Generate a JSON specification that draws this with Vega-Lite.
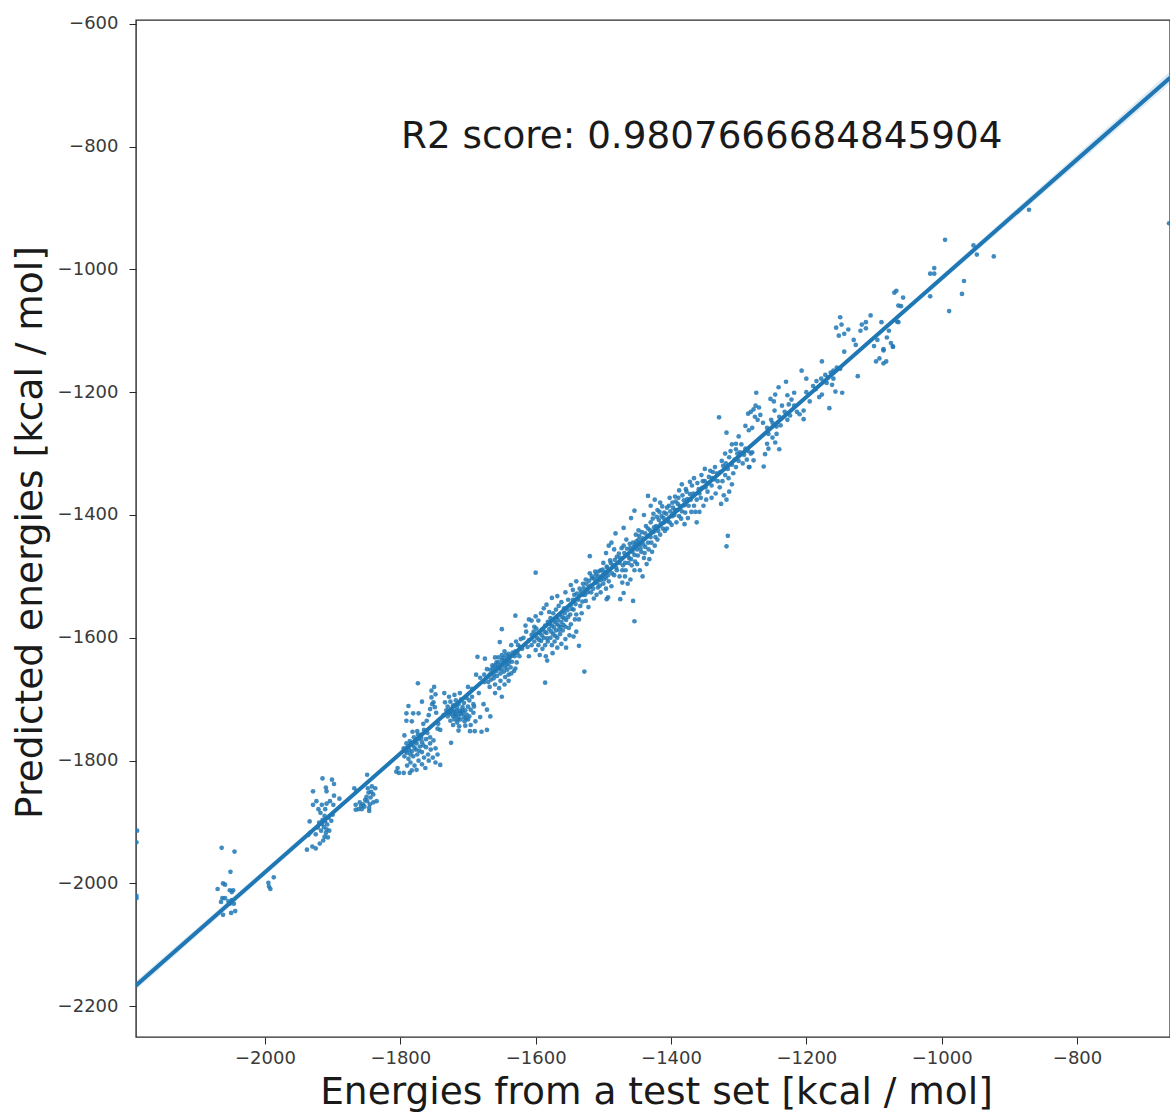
{
"$schema":"https://vega.github.io/schema/vega-lite/v6.json",
"width":1034,"height":1017,
"autosize":"none",
"padding":{"left":136,"top":20,"right":0,"bottom":76},
"background":"white",
"config":{"view":{"stroke":"#2a2a2a","strokeWidth":1.4},"font":"DejaVu Sans"},
"datasets":{
"pts":[
{"x":-2189,"y":-1914},{"x":-2190,"y":-1933},{"x":-2190,"y":-2020},{"x":-2190,"y":-2024},
{"x":-2064,"y":-1942},{"x":-2045,"y":-1948},{"x":-2051,"y":-1981},{"x":-2070,"y":-2009},{"x":-2062,"y":-2000},{"x":-2059,"y":-2002},{"x":-2052,"y":-2011},{"x":-2047,"y":-2011},{"x":-2049,"y":-2014},{"x":-2063,"y":-2024},{"x":-2059,"y":-2024},{"x":-2065,"y":-2030},{"x":-2054,"y":-2029},{"x":-2049,"y":-2027},{"x":-2052,"y":-2033},{"x":-2046,"y":-2033},{"x":-2062,"y":-2051},{"x":-2050,"y":-2048},{"x":-2044,"y":-2045},
{"x":-1995,"y":-1999},{"x":-1987,"y":-1990},{"x":-1994,"y":-2005},{"x":-1992,"y":-2009},
{"x":-1915,"y":-1829},{"x":-1901,"y":-1831},{"x":-1898,"y":-1838},{"x":-1910,"y":-1844},{"x":-1909,"y":-1850},{"x":-1929,"y":-1850},{"x":-1924,"y":-1866},{"x":-1929,"y":-1872},{"x":-1898,"y":-1857},{"x":-1890,"y":-1862},{"x":-1904,"y":-1866},{"x":-1909,"y":-1870},{"x":-1916,"y":-1872},{"x":-1921,"y":-1879},{"x":-1911,"y":-1879},{"x":-1899,"y":-1872},{"x":-1918,"y":-1885},{"x":-1912,"y":-1890},{"x":-1906,"y":-1893},{"x":-1900,"y":-1888},{"x":-1902,"y":-1898},{"x":-1934,"y":-1899},{"x":-1915,"y":-1897},{"x":-1920,"y":-1901},{"x":-1908,"y":-1904},{"x":-1913,"y":-1908},{"x":-1933,"y":-1917},{"x":-1936,"y":-1921},{"x":-1925,"y":-1920},{"x":-1917,"y":-1914},{"x":-1910,"y":-1918},{"x":-1905,"y":-1914},{"x":-1912,"y":-1924},{"x":-1919,"y":-1935},{"x":-1907,"y":-1925},{"x":-1930,"y":-1940},{"x":-1925,"y":-1943},{"x":-1938,"y":-1945},{"x":-1914,"y":-1930},{"x":-1916,"y":-1903},{"x":-1911,"y":-1899},{"x":-1922,"y":-1909},{"x":-1909,"y":-1912},
{"x":-1849,"y":-1823},{"x":-1868,"y":-1845},{"x":-1865,"y":-1850},{"x":-1842,"y":-1842},{"x":-1837,"y":-1845},{"x":-1847,"y":-1852},{"x":-1850,"y":-1859},{"x":-1844,"y":-1860},{"x":-1835,"y":-1866},{"x":-1860,"y":-1868},{"x":-1866,"y":-1872},{"x":-1855,"y":-1871},{"x":-1845,"y":-1871},{"x":-1866,"y":-1880},{"x":-1857,"y":-1879},{"x":-1846,"y":-1882},{"x":-1840,"y":-1868},{"x":-1852,"y":-1864},{"x":-1862,"y":-1879},{"x":-1840,"y":-1855},{"x":-1848,"y":-1845},{"x":-1853,"y":-1875},{"x":-1849,"y":-1866},{"x":-1843,"y":-1851},{"x":-1858,"y":-1874},{"x":-1846,"y":-1877},
{"x":-1774,"y":-1674},{"x":-1754,"y":-1686},{"x":-1750,"y":-1680},{"x":-1768,"y":-1704},{"x":-1788,"y":-1711},{"x":-1791,"y":-1723},{"x":-1781,"y":-1723},{"x":-1773,"y":-1723},{"x":-1791,"y":-1735},{"x":-1783,"y":-1736},{"x":-1766,"y":-1740},{"x":-1761,"y":-1735},{"x":-1794,"y":-1759},{"x":-1782,"y":-1753},{"x":-1754,"y":-1697},{"x":-1751,"y":-1705},{"x":-1749,"y":-1713},{"x":-1756,"y":-1716},{"x":-1747,"y":-1722},{"x":-1753,"y":-1708},{"x":-1748,"y":-1692},{"x":-1758,"y":-1726},{"x":-1745,"y":-1748},{"x":-1741,"y":-1750},{"x":-1744,"y":-1740},
{"x":-1775,"y":-1752},{"x":-1770,"y":-1758},{"x":-1765,"y":-1750},{"x":-1760,"y":-1755},{"x":-1756,"y":-1762},{"x":-1762,"y":-1765},{"x":-1768,"y":-1770},{"x":-1773,"y":-1765},{"x":-1780,"y":-1762},{"x":-1786,"y":-1768},{"x":-1791,"y":-1772},{"x":-1795,"y":-1780},{"x":-1788,"y":-1778},{"x":-1782,"y":-1775},{"x":-1776,"y":-1772},{"x":-1771,"y":-1777},{"x":-1777,"y":-1782},{"x":-1783,"y":-1785},{"x":-1790,"y":-1787},{"x":-1794,"y":-1793},{"x":-1788,"y":-1797},{"x":-1781,"y":-1793},{"x":-1775,"y":-1790},{"x":-1768,"y":-1786},{"x":-1762,"y":-1778},{"x":-1756,"y":-1772},{"x":-1751,"y":-1767},{"x":-1759,"y":-1790},{"x":-1765,"y":-1795},{"x":-1755,"y":-1782},{"x":-1748,"y":-1780},{"x":-1745,"y":-1790},{"x":-1752,"y":-1795},{"x":-1748,"y":-1803},{"x":-1741,"y":-1807},{"x":-1768,"y":-1806},{"x":-1773,"y":-1800},{"x":-1779,"y":-1808},{"x":-1785,"y":-1803},{"x":-1790,"y":-1808},{"x":-1804,"y":-1812},{"x":-1806,"y":-1818},{"x":-1802,"y":-1820},{"x":-1795,"y":-1820},{"x":-1783,"y":-1816},{"x":-1786,"y":-1820},{"x":-1776,"y":-1815},{"x":-1763,"y":-1812},{"x":-1758,"y":-1800},{"x":-1779,"y":-1779},{"x":-1785,"y":-1790},{"x":-1772,"y":-1784},{"x":-1778,"y":-1769},{"x":-1784,"y":-1772},{"x":-1769,"y":-1763},{"x":-1774,"y":-1758},{"x":-1766,"y":-1775},{"x":-1787,"y":-1783},{"x":-1793,"y":-1785},
{"x":-1735,"y":-1690},{"x":-1728,"y":-1696},{"x":-1720,"y":-1693},{"x":-1712,"y":-1690},{"x":-1700,"y":-1680},{"x":-1694,"y":-1683},{"x":-1688,"y":-1660},{"x":-1682,"y":-1665},{"x":-1676,"y":-1672},
{"x":-1734,"y":-1705},{"x":-1730,"y":-1712},{"x":-1726,"y":-1704},{"x":-1722,"y":-1710},{"x":-1718,"y":-1702},{"x":-1714,"y":-1708},{"x":-1710,"y":-1700},{"x":-1706,"y":-1706},{"x":-1702,"y":-1698},{"x":-1698,"y":-1702},{"x":-1694,"y":-1696},{"x":-1692,"y":-1708},{"x":-1732,"y":-1718},{"x":-1728,"y":-1722},{"x":-1724,"y":-1716},{"x":-1720,"y":-1720},{"x":-1716,"y":-1714},{"x":-1712,"y":-1719},{"x":-1708,"y":-1713},{"x":-1704,"y":-1718},{"x":-1700,"y":-1712},{"x":-1696,"y":-1717},{"x":-1736,"y":-1726},{"x":-1730,"y":-1728},{"x":-1726,"y":-1724},{"x":-1722,"y":-1728},{"x":-1718,"y":-1725},{"x":-1714,"y":-1729},{"x":-1710,"y":-1724},{"x":-1706,"y":-1729},{"x":-1702,"y":-1725},{"x":-1698,"y":-1728},{"x":-1692,"y":-1722},{"x":-1726,"y":-1735},{"x":-1720,"y":-1733},{"x":-1716,"y":-1738},{"x":-1711,"y":-1733},{"x":-1705,"y":-1736},{"x":-1700,"y":-1733},{"x":-1722,"y":-1742},{"x":-1713,"y":-1744},{"x":-1704,"y":-1743},{"x":-1696,"y":-1742},{"x":-1689,"y":-1736},{"x":-1677,"y":-1708},{"x":-1672,"y":-1717},{"x":-1667,"y":-1728},{"x":-1682,"y":-1729},{"x":-1691,"y":-1712},{"x":-1684,"y":-1690},{"x":-1714,"y":-1751},{"x":-1697,"y":-1752},{"x":-1725,"y":-1771},{"x":-1690,"y":-1752},{"x":-1680,"y":-1753},{"x":-1672,"y":-1750},{"x":-1717,"y":-1719},{"x":-1713,"y":-1723},{"x":-1709,"y":-1718},{"x":-1719,"y":-1727},{"x":-1707,"y":-1722},{"x":-1723,"y":-1721},{"x":-1715,"y":-1733},{"x":-1703,"y":-1731},
{"x":-1686,"y":-1631},{"x":-1675,"y":-1634},{"x":-1672,"y":-1651},{"x":-1668,"y":-1660},{"x":-1664,"y":-1645},{"x":-1660,"y":-1632},{"x":-1655,"y":-1640},{"x":-1650,"y":-1628},{"x":-1646,"y":-1622},{"x":-1640,"y":-1626},{"x":-1636,"y":-1612},{"x":-1670,"y":-1672},{"x":-1666,"y":-1668},{"x":-1662,"y":-1660},{"x":-1658,"y":-1654},{"x":-1654,"y":-1650},{"x":-1650,"y":-1644},{"x":-1646,"y":-1640},{"x":-1642,"y":-1634},{"x":-1638,"y":-1630},{"x":-1634,"y":-1624},{"x":-1676,"y":-1660},{"x":-1660,"y":-1645},{"x":-1655,"y":-1632},{"x":-1650,"y":-1636},{"x":-1645,"y":-1648},{"x":-1640,"y":-1642},{"x":-1662,"y":-1666},{"x":-1657,"y":-1662},{"x":-1652,"y":-1658},{"x":-1647,"y":-1655},{"x":-1642,"y":-1652},{"x":-1637,"y":-1648},{"x":-1668,"y":-1680},{"x":-1660,"y":-1676},{"x":-1652,"y":-1670},{"x":-1645,"y":-1664},{"x":-1640,"y":-1660},{"x":-1632,"y":-1654},{"x":-1654,"y":-1682},{"x":-1646,"y":-1676},{"x":-1650,"y":-1696},{"x":-1660,"y":-1690},{"x":-1640,"y":-1670},{"x":-1630,"y":-1650},{"x":-1628,"y":-1640},{"x":-1624,"y":-1630},{"x":-1630,"y":-1622},{"x":-1626,"y":-1612},{"x":-1622,"y":-1602},{"x":-1620,"y":-1618},
{"x":-1667,"y":-1652},{"x":-1663,"y":-1649},{"x":-1656,"y":-1647},{"x":-1651,"y":-1651},{"x":-1648,"y":-1633},{"x":-1643,"y":-1644},{"x":-1639,"y":-1637},{"x":-1635,"y":-1639},{"x":-1631,"y":-1630},{"x":-1627,"y":-1625},{"x":-1623,"y":-1615},{"x":-1658,"y":-1640},{"x":-1644,"y":-1628},{"x":-1636,"y":-1658},{"x":-1629,"y":-1606},
{"x":-1630,"y":-1564},{"x":-1650,"y":-1586},{"x":-1653,"y":-1607},{"x":-1600,"y":-1494},{"x":-1528,"y":-1655},{"x":-1586,"y":-1673},{"x":-1583,"y":-1637},{"x":-1536,"y":-1613},
{"x":-1615,"y":-1580},{"x":-1610,"y":-1570},{"x":-1606,"y":-1572},{"x":-1618,"y":-1600},{"x":-1614,"y":-1590},{"x":-1610,"y":-1604},{"x":-1606,"y":-1595},{"x":-1602,"y":-1582},{"x":-1600,"y":-1565},{"x":-1596,"y":-1572},{"x":-1592,"y":-1560},{"x":-1588,"y":-1552},{"x":-1584,"y":-1546},{"x":-1580,"y":-1558},{"x":-1576,"y":-1535},{"x":-1612,"y":-1615},{"x":-1606,"y":-1612},{"x":-1602,"y":-1606},{"x":-1598,"y":-1600},{"x":-1594,"y":-1592},{"x":-1590,"y":-1586},{"x":-1586,"y":-1580},{"x":-1582,"y":-1574},{"x":-1578,"y":-1568},{"x":-1574,"y":-1560},{"x":-1570,"y":-1554},{"x":-1566,"y":-1548},{"x":-1600,"y":-1620},{"x":-1596,"y":-1612},{"x":-1592,"y":-1605},{"x":-1588,"y":-1600},{"x":-1584,"y":-1592},{"x":-1580,"y":-1586},{"x":-1576,"y":-1580},{"x":-1572,"y":-1574},{"x":-1568,"y":-1566},{"x":-1564,"y":-1562},{"x":-1590,"y":-1618},{"x":-1586,"y":-1612},{"x":-1582,"y":-1606},{"x":-1578,"y":-1600},{"x":-1574,"y":-1594},{"x":-1570,"y":-1588},{"x":-1566,"y":-1580},{"x":-1562,"y":-1574},{"x":-1558,"y":-1568},{"x":-1576,"y":-1612},{"x":-1572,"y":-1606},{"x":-1568,"y":-1600},{"x":-1564,"y":-1594},{"x":-1560,"y":-1588},{"x":-1556,"y":-1582},{"x":-1568,"y":-1616},{"x":-1562,"y":-1610},{"x":-1556,"y":-1602},{"x":-1550,"y":-1596},{"x":-1575,"y":-1625},{"x":-1555,"y":-1616},{"x":-1594,"y":-1628},{"x":-1610,"y":-1630},{"x":-1585,"y":-1630},{"x":-1540,"y":-1590},{"x":-1544,"y":-1598},{"x":-1548,"y":-1578},{"x":-1542,"y":-1570},{"x":-1552,"y":-1566},{"x":-1558,"y":-1552},{"x":-1562,"y":-1542},{"x":-1568,"y":-1532},{"x":-1556,"y":-1526},{"x":-1552,"y":-1538},{"x":-1548,"y":-1546},{"x":-1544,"y":-1554},{"x":-1540,"y":-1562},{"x":-1536,"y":-1570},{"x":-1532,"y":-1560},{"x":-1545,"y":-1522},{"x":-1548,"y":-1514},{"x":-1540,"y":-1508},{"x":-1535,"y":-1520},{"x":-1530,"y":-1530},{"x":-1526,"y":-1540},{"x":-1522,"y":-1550},{"x":-1534,"y":-1548},{"x":-1530,"y":-1512},{"x":-1526,"y":-1505},{"x":-1522,"y":-1518},{"x":-1518,"y":-1526},{"x":-1514,"y":-1536},{"x":-1510,"y":-1530},{"x":-1520,"y":-1495},{"x":-1516,"y":-1503},{"x":-1512,"y":-1510},{"x":-1508,"y":-1518},{"x":-1504,"y":-1526},{"x":-1512,"y":-1492},{"x":-1508,"y":-1500},{"x":-1504,"y":-1506},{"x":-1500,"y":-1512},{"x":-1496,"y":-1520},{"x":-1504,"y":-1490},{"x":-1500,"y":-1496},{"x":-1496,"y":-1502},{"x":-1492,"y":-1508},{"x":-1488,"y":-1516},{"x":-1520,"y":-1467},{"x":-1493,"y":-1534},{"x":-1495,"y":-1537},{"x":-1475,"y":-1537},{"x":-1470,"y":-1527},{"x":-1456,"y":-1540},{"x":-1454,"y":-1573},{"x":-1454,"y":-1393},{"x":-1459,"y":-1405},{"x":-1470,"y":-1421},{"x":-1482,"y":-1430},{"x":-1434,"y":-1369},{"x":-1318,"y":-1451},{"x":-1316,"y":-1434},
{"x":-1603,"y":-1590},{"x":-1599,"y":-1585},{"x":-1595,"y":-1603},{"x":-1591,"y":-1596},{"x":-1587,"y":-1590},{"x":-1583,"y":-1601},{"x":-1579,"y":-1578},{"x":-1577,"y":-1590},{"x":-1573,"y":-1583},{"x":-1571,"y":-1597},{"x":-1569,"y":-1577},{"x":-1567,"y":-1571},{"x":-1565,"y":-1587},{"x":-1563,"y":-1582},{"x":-1561,"y":-1566},{"x":-1559,"y":-1579},{"x":-1557,"y":-1560},{"x":-1555,"y":-1571},{"x":-1553,"y":-1555},{"x":-1551,"y":-1584},{"x":-1549,"y":-1562},{"x":-1547,"y":-1553},{"x":-1545,"y":-1538},{"x":-1543,"y":-1530},{"x":-1541,"y":-1545},{"x":-1539,"y":-1528},{"x":-1537,"y":-1538},{"x":-1533,"y":-1525},{"x":-1531,"y":-1541},{"x":-1529,"y":-1519},{"x":-1527,"y":-1530},{"x":-1525,"y":-1512},{"x":-1523,"y":-1526},{"x":-1521,"y":-1507},{"x":-1519,"y":-1515},{"x":-1517,"y":-1500},{"x":-1515,"y":-1520},{"x":-1513,"y":-1504},{"x":-1511,"y":-1497},{"x":-1509,"y":-1510},{"x":-1507,"y":-1492},{"x":-1505,"y":-1515},{"x":-1503,"y":-1500},{"x":-1501,"y":-1489},{"x":-1499,"y":-1505},{"x":-1497,"y":-1493},{"x":-1495,"y":-1484},{"x":-1493,"y":-1498},{"x":-1491,"y":-1490},{"x":-1489,"y":-1478},{"x":-1487,"y":-1495},
{"x":-1500,"y":-1478},{"x":-1494,"y":-1486},{"x":-1490,"y":-1474},{"x":-1486,"y":-1482},{"x":-1496,"y":-1462},{"x":-1492,"y":-1450},{"x":-1488,"y":-1445},{"x":-1484,"y":-1456},{"x":-1480,"y":-1468},{"x":-1476,"y":-1478},{"x":-1472,"y":-1490},{"x":-1484,"y":-1498},{"x":-1480,"y":-1490},{"x":-1476,"y":-1500},{"x":-1472,"y":-1510},{"x":-1468,"y":-1500},{"x":-1464,"y":-1512},{"x":-1460,"y":-1505},{"x":-1468,"y":-1478},{"x":-1464,"y":-1466},{"x":-1460,"y":-1454},{"x":-1456,"y":-1445},{"x":-1452,"y":-1432},{"x":-1448,"y":-1425},{"x":-1470,"y":-1450},{"x":-1466,"y":-1440},{"x":-1462,"y":-1470},{"x":-1458,"y":-1482},{"x":-1454,"y":-1490},{"x":-1450,"y":-1480},{"x":-1446,"y":-1490},{"x":-1442,"y":-1500},{"x":-1454,"y":-1465},{"x":-1450,"y":-1456},{"x":-1446,"y":-1447},{"x":-1442,"y":-1438},{"x":-1438,"y":-1430},{"x":-1434,"y":-1422},{"x":-1430,"y":-1412},{"x":-1452,"y":-1448},{"x":-1448,"y":-1440},{"x":-1444,"y":-1460},{"x":-1440,"y":-1470},{"x":-1436,"y":-1480},{"x":-1432,"y":-1472},{"x":-1438,"y":-1452},{"x":-1434,"y":-1445},{"x":-1430,"y":-1436},{"x":-1426,"y":-1428},{"x":-1422,"y":-1418},{"x":-1418,"y":-1408},{"x":-1428,"y":-1460},{"x":-1424,"y":-1450},{"x":-1420,"y":-1440},{"x":-1416,"y":-1432},{"x":-1412,"y":-1422},{"x":-1426,"y":-1398},{"x":-1420,"y":-1392},{"x":-1414,"y":-1402},{"x":-1410,"y":-1396},{"x":-1406,"y":-1388},{"x":-1440,"y":-1400},{"x":-1430,"y":-1385},{"x":-1424,"y":-1375},{"x":-1416,"y":-1380},{"x":-1410,"y":-1412},{"x":-1406,"y":-1422},{"x":-1402,"y":-1412},{"x":-1398,"y":-1402},{"x":-1394,"y":-1392},{"x":-1390,"y":-1382},{"x":-1402,"y":-1372},{"x":-1398,"y":-1380},{"x":-1394,"y":-1370},{"x":-1388,"y":-1360},{"x":-1392,"y":-1412},{"x":-1388,"y":-1402},{"x":-1384,"y":-1394},{"x":-1380,"y":-1384},{"x":-1376,"y":-1374},{"x":-1372,"y":-1366},{"x":-1384,"y":-1350},{"x":-1378,"y":-1358},{"x":-1372,"y":-1346},{"x":-1366,"y":-1340},{"x":-1380,"y":-1415},{"x":-1375,"y":-1405},{"x":-1370,"y":-1395},{"x":-1366,"y":-1385},{"x":-1362,"y":-1375},{"x":-1358,"y":-1365},{"x":-1354,"y":-1356},{"x":-1350,"y":-1345},{"x":-1362,"y":-1412},{"x":-1358,"y":-1395},{"x":-1352,"y":-1385},{"x":-1348,"y":-1375},{"x":-1355,"y":-1335},{"x":-1350,"y":-1325},{"x":-1344,"y":-1338},{"x":-1338,"y":-1330},{"x":-1346,"y":-1362},{"x":-1340,"y":-1352},{"x":-1336,"y":-1342},{"x":-1332,"y":-1332},{"x":-1340,"y":-1372},{"x":-1334,"y":-1365},{"x":-1328,"y":-1355},{"x":-1324,"y":-1345},{"x":-1320,"y":-1335},{"x":-1316,"y":-1325},{"x":-1326,"y":-1382},{"x":-1322,"y":-1368},{"x":-1318,"y":-1375},{"x":-1314,"y":-1362},{"x":-1310,"y":-1350},{"x":-1325,"y":-1312},{"x":-1320,"y":-1300},{"x":-1314,"y":-1306},{"x":-1310,"y":-1318},{"x":-1306,"y":-1310},{"x":-1302,"y":-1300},
{"x":-1483,"y":-1473},{"x":-1481,"y":-1486},{"x":-1477,"y":-1463},{"x":-1475,"y":-1470},{"x":-1473,"y":-1454},{"x":-1471,"y":-1482},{"x":-1469,"y":-1462},{"x":-1467,"y":-1490},{"x":-1465,"y":-1455},{"x":-1463,"y":-1478},{"x":-1461,"y":-1447},{"x":-1459,"y":-1472},{"x":-1457,"y":-1460},{"x":-1455,"y":-1452},{"x":-1453,"y":-1476},{"x":-1451,"y":-1443},{"x":-1449,"y":-1466},{"x":-1447,"y":-1434},{"x":-1445,"y":-1454},{"x":-1443,"y":-1428},{"x":-1441,"y":-1448},{"x":-1439,"y":-1462},{"x":-1437,"y":-1418},{"x":-1435,"y":-1435},{"x":-1433,"y":-1456},{"x":-1431,"y":-1425},{"x":-1429,"y":-1445},{"x":-1427,"y":-1406},{"x":-1425,"y":-1420},{"x":-1423,"y":-1436},{"x":-1421,"y":-1403},{"x":-1419,"y":-1426},{"x":-1417,"y":-1395},{"x":-1415,"y":-1414},{"x":-1413,"y":-1386},{"x":-1411,"y":-1405},{"x":-1409,"y":-1426},{"x":-1407,"y":-1398},{"x":-1405,"y":-1410},{"x":-1403,"y":-1385},{"x":-1401,"y":-1394},{"x":-1399,"y":-1416},{"x":-1397,"y":-1388},{"x":-1395,"y":-1400},{"x":-1393,"y":-1378},{"x":-1391,"y":-1392},{"x":-1389,"y":-1372},{"x":-1387,"y":-1385},{"x":-1385,"y":-1406},{"x":-1383,"y":-1368},{"x":-1381,"y":-1376},{"x":-1379,"y":-1396},{"x":-1377,"y":-1362},{"x":-1374,"y":-1385},{"x":-1371,"y":-1375},{"x":-1369,"y":-1352},{"x":-1367,"y":-1365},{"x":-1364,"y":-1395},{"x":-1361,"y":-1348},{"x":-1359,"y":-1358},{"x":-1356,"y":-1372},{"x":-1353,"y":-1345},{"x":-1349,"y":-1355},{"x":-1345,"y":-1348},{"x":-1342,"y":-1328},{"x":-1339,"y":-1340},{"x":-1335,"y":-1322},{"x":-1331,"y":-1345},{"x":-1327,"y":-1330},{"x":-1323,"y":-1320},{"x":-1319,"y":-1316},{"x":-1315,"y":-1340},{"x":-1312,"y":-1296},{"x":-1308,"y":-1332},{"x":-1304,"y":-1322},
{"x":-1329,"y":-1241},{"x":-1318,"y":-1266},{"x":-1300,"y":-1272},{"x":-1310,"y":-1285},{"x":-1304,"y":-1284},{"x":-1296,"y":-1285},{"x":-1290,"y":-1292},{"x":-1304,"y":-1293},{"x":-1298,"y":-1298},{"x":-1292,"y":-1302},{"x":-1286,"y":-1296},{"x":-1282,"y":-1300},{"x":-1300,"y":-1312},{"x":-1294,"y":-1316},{"x":-1288,"y":-1310},{"x":-1284,"y":-1322},{"x":-1278,"y":-1311},{"x":-1280,"y":-1298},{"x":-1263,"y":-1321},{"x":-1285,"y":-1322},{"x":-1240,"y":-1293},{"x":-1246,"y":-1282},{"x":-1258,"y":-1284},{"x":-1261,"y":-1301},{"x":-1256,"y":-1292},{"x":-1274,"y":-1201},{"x":-1230,"y":-1183},{"x":-1207,"y":-1165},{"x":-1177,"y":-1150},{"x":-1144,"y":-1134},{"x":-1072,"y":-1126},{"x":-1086,"y":-1132},{"x":-1097,"y":-1150},{"x":-1086,"y":-1153},{"x":-1082,"y":-1150},{"x":-1124,"y":-1174},{"x":-1166,"y":-1226},{"x":-1147,"y":-1201},{"x":-1157,"y":-1199},{"x":-1162,"y":-1188},{"x":-1181,"y":-1208},{"x":-1177,"y":-1204},{"x":-1204,"y":-1230},{"x":-1204,"y":-1244},{"x":-1218,"y":-1201},{"x":-1241,"y":-1192},{"x":-1246,"y":-1204},{"x":-1253,"y":-1211},{"x":-1248,"y":-1215},
{"x":-1275,"y":-1222},{"x":-1282,"y":-1232},{"x":-1286,"y":-1235},{"x":-1278,"y":-1228},{"x":-1270,"y":-1225},{"x":-1268,"y":-1237},{"x":-1276,"y":-1240},{"x":-1290,"y":-1255},{"x":-1285,"y":-1262},{"x":-1280,"y":-1258},{"x":-1272,"y":-1245},{"x":-1264,"y":-1250},{"x":-1258,"y":-1258},{"x":-1252,"y":-1245},{"x":-1247,"y":-1230},{"x":-1250,"y":-1250},{"x":-1244,"y":-1256},{"x":-1240,"y":-1240},{"x":-1236,"y":-1222},{"x":-1232,"y":-1232},{"x":-1228,"y":-1245},{"x":-1224,"y":-1238},{"x":-1238,"y":-1254},{"x":-1244,"y":-1268},{"x":-1250,"y":-1274},{"x":-1256,"y":-1268},{"x":-1218,"y":-1222},{"x":-1222,"y":-1212},{"x":-1226,"y":-1220},{"x":-1214,"y":-1232},{"x":-1210,"y":-1236},{"x":-1228,"y":-1205},{"x":-1195,"y":-1215},{"x":-1200,"y":-1200},{"x":-1190,"y":-1190},{"x":-1185,"y":-1182},{"x":-1178,"y":-1178},{"x":-1172,"y":-1172},{"x":-1168,"y":-1176},{"x":-1164,"y":-1168},{"x":-1160,"y":-1165},{"x":-1155,"y":-1160},{"x":-1150,"y":-1162},{"x":-1186,"y":-1195},{"x":-1170,"y":-1185},{"x":-1160,"y":-1178},{"x":-1200,"y":-1178},
{"x":-1150,"y":-1078},{"x":-1156,"y":-1095},{"x":-1148,"y":-1090},{"x":-1152,"y":-1108},{"x":-1144,"y":-1105},{"x":-1138,"y":-1098},{"x":-1130,"y":-1115},{"x":-1118,"y":-1090},{"x":-1112,"y":-1096},{"x":-1105,"y":-1075},{"x":-1112,"y":-1086},{"x":-1120,"y":-1100},{"x":-1127,"y":-1123},{"x":-1100,"y":-1125},{"x":-1095,"y":-1115},{"x":-1078,"y":-1100},{"x":-1092,"y":-1145},{"x":-1066,"y":-1085},{"x":-1070,"y":-1038},{"x":-1060,"y":-1060},{"x":-1075,"y":-1120},
{"x":-664,"y":-925},{"x":-871,"y":-903},{"x":-995,"y":-952},{"x":-923,"y":-979},{"x":-953,"y":-961},{"x":-948,"y":-976},{"x":-1011,"y":-998},{"x":-1017,"y":-1007},{"x":-1011,"y":-1007},{"x":-967,"y":-1019},{"x":-970,"y":-1040},{"x":-989,"y":-1068},{"x":-1017,"y":-1044},{"x":-1067,"y":-1035},{"x":-1057,"y":-1046},{"x":-1064,"y":-1059},{"x":-1064,"y":-1086},{"x":-1089,"y":-1086},{"x":-1081,"y":-1111},{"x":-1072,"y":-1126},{"x":-1086,"y":-1130}
],
"fit":[{"x":-2190.6,"y":-2166,"lo":-2173,"hi":-2159},{"x":-1600,"y":-1595,"lo":-1596.5,"hi":-1593.5},{"x":-1200,"y":-1208,"lo":-1210,"hi":-1206},{"x":-662.6,"y":-688,"lo":-698,"hi":-678}],
"note":[{"x":-1799,"y":-802,"label":"R2 score: 0.9807666684845904"}]
},
"encoding":{
"x":{"field":"x","type":"quantitative","scale":{"domain":[-2190.6,-662.6],"nice":false,"zero":false},
"axis":{"title":"Energies from a test set [kcal / mol]","values":[-2000,-1800,-1600,-1400,-1200,-1000,-800],"grid":false,"domain":false,"tickColor":"#2a2a2a","tickSize":7,"tickWidth":1,"labelFont":"DejaVu Sans","labelFontSize":18,"labelColor":"#3a3a3a","labelPadding":5,"titleFont":"DejaVu Sans","titleFontSize":37.5,"titleFontWeight":"normal","titleColor":"#1a1a1a","titlePadding":6,"titleX":520,"labelExpr":"replace(format(datum.value,'d'),'-','−')"}},
"y":{"field":"y","type":"quantitative","scale":{"domain":[-2250,-594],"nice":false,"zero":false},
"axis":{"title":"Predicted energies [kcal / mol]","values":[-2200,-2000,-1800,-1600,-1400,-1200,-1000,-800,-600],"grid":false,"domain":false,"tickColor":"#2a2a2a","tickSize":7,"tickWidth":1,"labelFont":"DejaVu Sans","labelFontSize":18,"labelColor":"#3a3a3a","labelPadding":11,"titleFont":"DejaVu Sans","titleFontSize":37.5,"titleFontWeight":"normal","titleColor":"#1a1a1a","titlePadding":8,"titleY":512,"labelExpr":"replace(format(datum.value,'d'),'-','−')"}}
},
"layer":[
{"data":{"name":"fit"},"mark":{"type":"area","color":"#1f77b4","opacity":0.15,"clip":true},"encoding":{"y":{"field":"lo","type":"quantitative"},"y2":{"field":"hi"}}},
{"data":{"name":"pts"},"mark":{"type":"point","filled":true,"shape":"circle","size":22,"color":"#1f77b4","opacity":0.85,"clip":true}},
{"data":{"name":"fit"},"mark":{"type":"line","color":"#1f77b4","strokeWidth":4,"clip":true}},
{"data":{"name":"note"},"mark":{"type":"text","align":"left","baseline":"alphabetic","font":"DejaVu Sans","fontSize":37.3,"color":"#1a1a1a"},"encoding":{"text":{"field":"label","type":"nominal"}}}
]
}
